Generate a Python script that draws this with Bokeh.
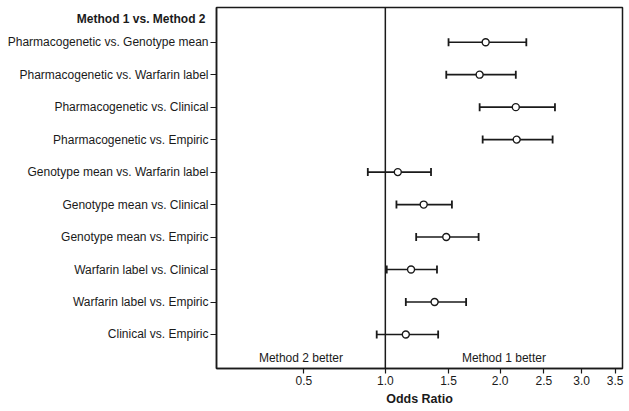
import numpy as np
from bokeh.plotting import figure
from bokeh.models import (ColumnDataSource, FixedTicker, Range1d, Label, Span,
                          Whisker, TeeHead, CustomJSTickFormatter, LinearAxis)
from bokeh.embed import file_html
from bokeh.resources import INLINE

# ---------------- data ----------------
comparisons = [
    "Pharmacogenetic vs. Genotype mean",
    "Pharmacogenetic vs. Warfarin label",
    "Pharmacogenetic vs. Clinical",
    "Pharmacogenetic vs. Empiric",
    "Genotype mean vs. Warfarin label",
    "Genotype mean vs. Clinical",
    "Genotype mean vs. Empiric",
    "Warfarin label vs. Clinical",
    "Warfarin label vs. Empiric",
    "Clinical vs. Empiric",
]
odds_ratio = [1.85, 1.79, 2.17, 2.18, 1.09, 1.29, 1.48, 1.19, 1.38, 1.15]
ci_lower = [1.50, 1.48, 1.79, 1.82, 0.88, 1.08, 1.23, 1.01, 1.15, 0.94]
ci_upper = [2.29, 2.17, 2.64, 2.61, 1.35, 1.53, 1.78, 1.40, 1.66, 1.41]
x_tick_values = [0.5, 1.0, 1.5, 2.0, 2.5, 3.0, 3.5]
x_tick_labels = ["0.5", "1.0", "1.5", "2.0", "2.5", "3.0", "3.5"]
reference_value = 1.0
x_limits = [0.102, 3.62]
header_text = "Method 1 vs. Method 2"
left_note = "Method 2 better"
right_note = "Method 1 better"
x_title = "Odds Ratio"


def scale(v):
    # axis spacing used by the reference chart: log(1 + OR)
    return np.log1p(np.asarray(v, dtype=float))


n = len(comparisons)
rows = list(range(n, 0, -1))
header_row = n + 0.70
src = ColumnDataSource(dict(
    y=rows,
    x=scale(odds_ratio),
    lo=scale(ci_lower),
    hi=scale(ci_upper),
    name=comparisons,
))

FONT = "Liberation Sans"
INK = "#1a1a1a"
xs, xe = (float(v) for v in scale(x_limits))

p = figure(width=625, height=411, output_backend="svg", toolbar_location=None,
           x_range=Range1d(xs, xe), y_range=Range1d(-0.047, n + 1.068),
           min_border_left=216, min_border_right=3, min_border_top=7,
           min_border_bottom=43, background_fill_color="white",
           border_fill_color="white")

p.xgrid.grid_line_color = None
p.ygrid.grid_line_color = None
p.outline_line_color = INK
p.outline_line_width = 1.5

# reference line at OR = 1
p.add_layout(Span(location=float(scale(reference_value)), dimension="height",
                  line_color=INK, line_width=1.5))

# confidence intervals
head_kw = dict(size=8, line_color=INK, line_width=1.8)
p.add_layout(Whisker(source=src, base="y", lower="lo", upper="hi",
                     dimension="width", line_color=INK, line_width=1.6,
                     upper_head=TeeHead(**head_kw), lower_head=TeeHead(**head_kw)))

# point estimates
p.scatter("x", "y", source=src, marker="circle", size=7, fill_color="white",
          line_color=INK, line_width=1.4)

# x axis
p.xaxis.ticker = FixedTicker(ticks=[float(v) for v in scale(x_tick_values)])
p.xaxis.formatter = CustomJSTickFormatter(
    args=dict(vals=[float(v) for v in scale(x_tick_values)], labels=x_tick_labels),
    code="""
    let b = 0;
    for (let k = 0; k < vals.length; k++) {
        if (Math.abs(vals[k] - tick) < Math.abs(vals[b] - tick)) { b = k; }
    }
    return labels[b];
    """)
p.xaxis.axis_label = x_title
p.xaxis.axis_label_text_font = FONT
p.xaxis.axis_label_text_font_style = "bold"
p.xaxis.axis_label_text_font_size = "12.5px"
p.xaxis.axis_label_text_color = INK
p.xaxis.axis_label_standoff = 4
p.xaxis.major_label_text_font = FONT
p.xaxis.major_label_text_font_size = "12px"
p.xaxis.major_label_text_color = INK
p.xaxis.axis_line_color = INK
p.xaxis.axis_line_width = 1.5
p.xaxis.major_tick_line_color = INK
p.xaxis.major_tick_line_width = 1.2
p.xaxis.major_tick_in = 0
p.xaxis.major_tick_out = 5
p.xaxis.minor_tick_line_color = None
p.xaxis.major_label_standoff = 2

# inner y axis: tick marks only
tick_axis = p.yaxis[0]
tick_axis.ticker = FixedTicker(ticks=rows)
tick_axis.major_label_overrides = {r: "" for r in rows}
tick_axis.major_label_standoff = 0
tick_axis.major_tick_out = 6
tick_axis.major_tick_in = 0
tick_axis.major_tick_line_color = INK
tick_axis.major_tick_line_width = 1.2
tick_axis.minor_tick_line_color = None
tick_axis.axis_line_color = INK
tick_axis.axis_line_width = 1.5

# middle y axis: comparison names
label_axis = LinearAxis(
    ticker=FixedTicker(ticks=rows),
    major_label_overrides={r: name for r, name in zip(rows, comparisons)},
    major_tick_out=0, major_tick_in=0, minor_tick_line_color=None,
    axis_line_color=None, major_label_standoff=2,
    major_label_text_font=FONT, major_label_text_font_size="12px",
    major_label_text_color=INK)
p.add_layout(label_axis, "left")

# outer y axis: bold column header, pulled back over the names column
header_axis = LinearAxis(
    ticker=FixedTicker(ticks=[header_row]),
    major_label_overrides={header_row: header_text},
    major_tick_out=0, major_tick_in=0, minor_tick_line_color=None,
    axis_line_color=None, major_label_standoff=-201,
    major_label_text_font=FONT, major_label_text_font_size="12px",
    major_label_text_font_style="bold", major_label_text_color=INK)
p.add_layout(header_axis, "left")

# side notes
mid = float(scale(reference_value))
p.add_layout(Label(x=(xs + mid) / 2, y=0.29, text=left_note,
                   text_align="center", text_baseline="middle",
                   text_font=FONT, text_font_size="12px", text_color=INK))
p.add_layout(Label(x=(mid + xe) / 2, y=0.29, text=right_note,
                   text_align="center", text_baseline="middle",
                   text_font=FONT, text_font_size="12px", text_color=INK))

open("out.html", "w").write(file_html(p, INLINE))
